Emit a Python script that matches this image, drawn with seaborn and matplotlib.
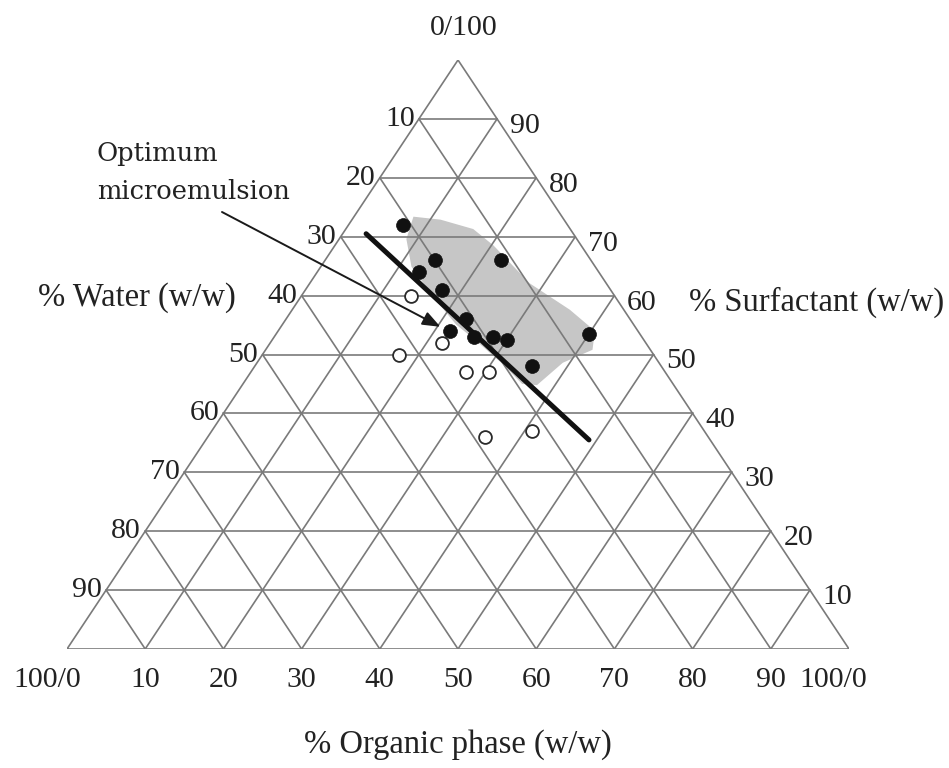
import matplotlib
matplotlib.use("Agg")
import matplotlib.pyplot as plt
import seaborn as sns
import pandas as pd
import numpy as np

# Compositions (% w/w): water, organic phase, surfactant
single_phase_water = [21, 20, 23, 11.5, 21.5, 21, 24, 21.5, 19, 17.5, 6.5, 16.5]
single_phase_organic = [7, 14, 13, 22.5, 17.5, 23, 22, 25.5, 28, 30, 40, 35.5]
single_phase_surf = [72, 66, 64, 66, 61, 56, 54, 53, 53, 52.5, 53.5, 48]

two_phase_water = [26, 32.5, 26, 25.5, 22.5, 28.5, 22]
two_phase_organic = [14, 17.5, 22, 27.5, 30.5, 35.5, 41]
two_phase_surf = [60, 50, 52, 47, 47, 36, 37]

# Boundary line of the microemulsion region
boundary_water = [26.5, 15.5]
boundary_organic = [3, 49]
boundary_surf = [70.5, 35.5]

# Outline of the shaded microemulsion region (organic, surfactant)
region_organic = [7.6, 11.3, 16.3, 20.3, 28.1, 35.5, 40.5, 41.8, 39.1, 37.7,
                  35.7, 31.5, 26.2, 22.2, 17.7, 11.6, 8.6]
region_surf = [73.4, 72.9, 71.3, 68.5, 62.1, 57.6, 54.0, 50.8, 48.6, 44.8,
               45.0, 48.4, 52.3, 55.1, 59.1, 64.9, 69.6]

# Arrow target composition for the optimum formulation
optimum_water, optimum_organic, optimum_surf = 24.9, 20.4, 54.7

grid_levels = [10, 20, 30, 40, 50, 60, 70, 80, 90]


def tern(organic, surf):
    """Map a composition to plot coordinates (surfactant at the apex)."""
    organic = np.asarray(organic, dtype=float)
    surf = np.asarray(surf, dtype=float)
    return (organic + surf / 2.0) / 100.0, surf / 100.0


single = pd.DataFrame({"water": single_phase_water,
                       "organic": single_phase_organic,
                       "surf": single_phase_surf})
single["x"], single["y"] = tern(single["organic"], single["surf"])

two = pd.DataFrame({"water": two_phase_water,
                    "organic": two_phase_organic,
                    "surf": two_phase_surf})
two["x"], two["y"] = tern(two["organic"], two["surf"])

boundary = pd.DataFrame({"organic": boundary_organic, "surf": boundary_surf})
boundary["x"], boundary["y"] = tern(boundary["organic"], boundary["surf"])

sns.set_theme(style="white")
plt.rcParams["font.family"] = ["Liberation Serif", "DejaVu Serif"]

W, H = 949, 768
fig = plt.figure(figsize=(W / 100, H / 100), dpi=100)
fig.patch.set_facecolor("white")
ax = fig.add_axes([67 / W, (H - 649) / H, 782 / W, 589 / H])
ax.set_xlim(0, 1)
ax.set_ylim(0, 1)
ax.axis("off")

grid_color = "#7a7a7a"
grid_lw = 1.2

# shaded single-phase region
rx, ry = tern(region_organic, region_surf)
ax.fill(rx, ry, color="#c6c6c6", lw=0, zorder=1)

# triangle outline
tx, ty = tern([0, 100, 0, 0], [0, 0, 100, 0])
ax.plot(tx, ty, color=grid_color, lw=grid_lw, zorder=2, solid_joinstyle="miter")

# grid lines for each of the three components
for k in grid_levels:
    gx, gy = tern([0, 100 - k], [k, k])                # constant surfactant
    ax.plot(gx, gy, color=grid_color, lw=grid_lw, zorder=2)
    gx, gy = tern([k, k], [0, 100 - k])                # constant organic
    ax.plot(gx, gy, color=grid_color, lw=grid_lw, zorder=2)
    gx, gy = tern([100 - k, 0], [0, 100 - k])          # constant water
    ax.plot(gx, gy, color=grid_color, lw=grid_lw, zorder=2)

# phase boundary
sns.lineplot(data=boundary, x="x", y="y", sort=False, color="#111111",
             lw=3.6, ax=ax, zorder=4, legend=False)

# observed compositions
sns.scatterplot(data=two, x="x", y="y", marker="o", s=85,
                facecolor="white", edgecolor="#2a2a2a", linewidth=1.3,
                ax=ax, zorder=5, legend=False)
sns.scatterplot(data=single, x="x", y="y", marker="o", s=100,
                color="#111111", edgecolor="#111111", linewidth=0.5,
                ax=ax, zorder=6, legend=False)
ax.set_xlabel("")
ax.set_ylabel("")

num_fs = 21.5
title_fs = 23.5
txt_color = "#222222"

# left edge labels
for k in grid_levels:
    px, py = tern(0, 100 - k)
    ax.annotate(str(k), (px, py), xytext=(-3, 0), textcoords="offset points",
                ha="right", va="center", fontsize=num_fs, color=txt_color,
                annotation_clip=False)

# right edge labels
for k in grid_levels:
    px, py = tern(100 - k, k)
    ax.annotate(str(k), (px, py), xytext=(9, -5), textcoords="offset points",
                ha="left", va="center", fontsize=num_fs, color=txt_color,
                annotation_clip=False)

# bottom edge labels
for k in grid_levels:
    px, py = tern(k, 0)
    ax.annotate(str(k), (px, py), xytext=(0, -13), textcoords="offset points",
                ha="center", va="top", fontsize=num_fs, color=txt_color,
                annotation_clip=False)
px, py = tern(0, 0)
ax.annotate("100/0", (px, py), xytext=(-14, -13), textcoords="offset points",
            ha="center", va="top", fontsize=num_fs, color=txt_color,
            annotation_clip=False)
px, py = tern(100, 0)
ax.annotate("100/0", (px, py), xytext=(-11, -13), textcoords="offset points",
            ha="center", va="top", fontsize=num_fs, color=txt_color,
            annotation_clip=False)
px, py = tern(0, 100)
ax.annotate("0/100", (px, py), xytext=(4, 14), textcoords="offset points",
            ha="center", va="bottom", fontsize=num_fs, color=txt_color,
            annotation_clip=False)

# component titles
fig.text(137 / W, 1 - 298 / H, "% Water (w/w)", ha="center", va="center",
         fontsize=title_fs, color=txt_color)
fig.text(817 / W, 1 - 302 / H, "% Surfactant (w/w)", ha="center", va="center",
         fontsize=title_fs, color=txt_color)
fig.text(458 / W, 1 - 745 / H, "% Organic phase (w/w)", ha="center",
         va="center", fontsize=title_fs, color=txt_color)

# callout for the optimum formulation
note_font = ["DejaVu Serif"]
fig.text(97 / W, 1 - 161 / H, "Optimum", ha="left", va="baseline",
         fontsize=18.5, color=txt_color, family=note_font)
fig.text(97 / W, 1 - 199 / H, "microemulsion", ha="left", va="baseline",
         fontsize=18.5, color=txt_color, family=note_font)
ox, oy = tern(optimum_organic, optimum_surf)
ax.annotate("", xy=(ox, oy), xytext=((222 - 67) / 782, (649 - 212) / 589),
            arrowprops=dict(arrowstyle="-|>,head_length=0.9,head_width=0.35",
                            color="#1a1a1a", lw=1.4, shrinkA=0, shrinkB=0),
            annotation_clip=False, zorder=7)

fig.savefig("out.png", dpi=100, facecolor="white")
